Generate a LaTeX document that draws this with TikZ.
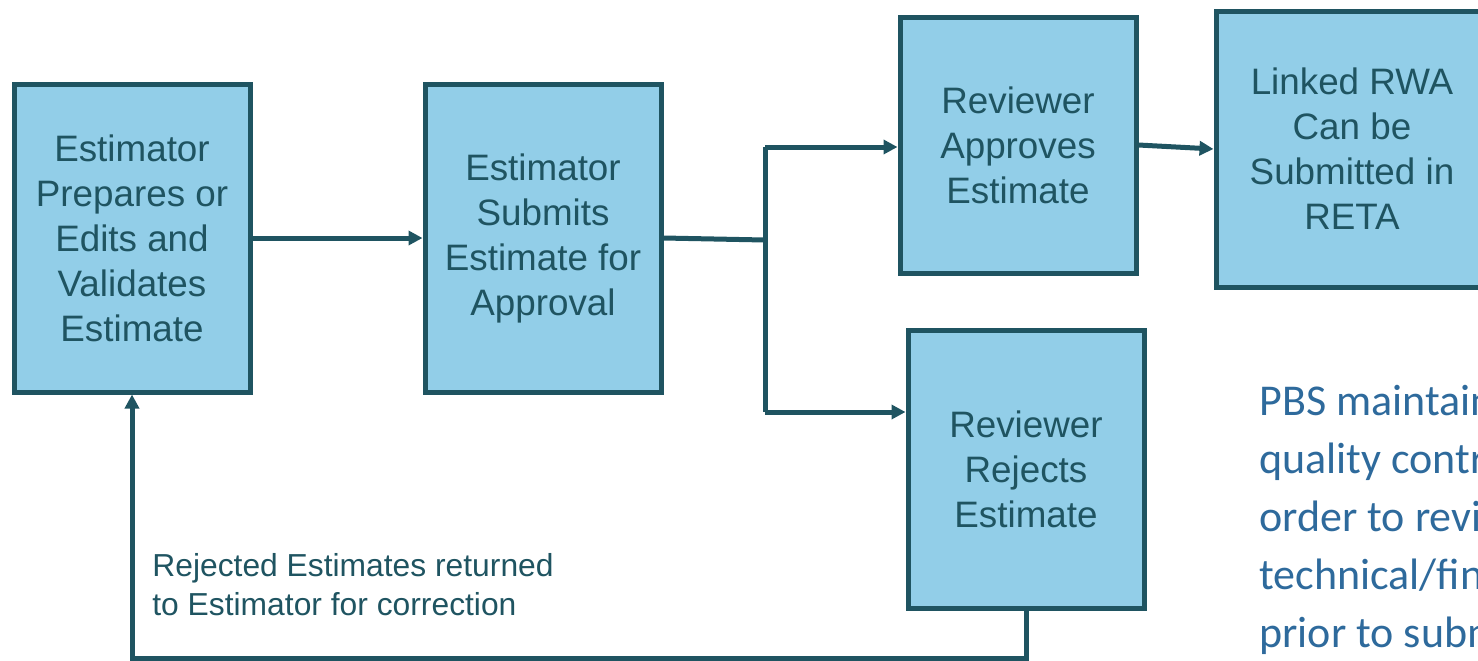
\documentclass[tikz,border=0pt]{standalone}
\usepackage{fontspec}
\setmainfont{Liberation Sans}
\newfontfamily\notefont{Carlito}
\usetikzlibrary{arrows.meta}
\definecolor{boxfill}{HTML}{92CEE8}
\definecolor{edge}{HTML}{1F5461}
\definecolor{notecol}{HTML}{2E6A9C}
\begin{document}
\begin{tikzpicture}[x=0.5pt,y=-0.5pt,
    stepbox/.style={draw=edge,fill=boxfill,line width=2.5pt,inner sep=0pt,align=center,
      text=edge,font=\fontsize{18.4}{22.5}\selectfont},
    link/.style={draw=edge,line width=2.5pt},
    arr/.style={link,-{Triangle[length=7pt,width=7pt]}}]
  \useasboundingbox (0,0) rectangle (1478,660);
  \clip (0,0) rectangle (1478,660);
  \node[stepbox,minimum width=118pt,minimum height=154pt] (prep) at (132,238) {Estimator\\Prepares or\\Edits and\\Validates\\Estimate};
  \node[stepbox,minimum width=118pt,minimum height=154pt] (submit) at (543,238) {Estimator\\Submits\\Estimate for\\Approval};
  \node[stepbox,minimum width=118pt,minimum height=128pt] (approve) at (1018,145) {Reviewer\\Approves\\Estimate};
  \node[stepbox,minimum width=118pt,minimum height=139pt] (reject) at (1026,469) {Reviewer\\Rejects\\Estimate};
  \node[stepbox,minimum width=136pt,minimum height=138pt] (reta) at (1352,149) {Linked RWA\\Can be\\Submitted in\\RETA};
  \coordinate (split) at (765,240);
  \coordinate (splittop) at (765,147);
  \coordinate (splitbot) at (765,412);
  \coordinate (back) at (132,658);
  \draw[arr] (prep.east) -- (submit.east -| submit.west);
  \draw[link] (submit.east) -- (split);
  \draw[link] (splittop) -- (splitbot);
  \draw[arr] (splittop) -- (splittop -| approve.west);
  \draw[arr] (splitbot) -- (splitbot -| reject.west);
  \draw[arr] (approve.east) -- (reta.west);
  \draw[arr] (reject.south) |- (back) -- (prep.south);
  \node[anchor=west,align=left,text=edge,inner sep=0pt,font=\fontsize{15.9}{19.5}\selectfont] (backnote) at (152,585) {Rejected Estimates returned\\to Estimator for correction};
  \node[anchor=west,align=left,text=notecol,inner sep=0pt,font=\notefont\fontsize{22}{29}\selectfont] (qcnote) at (1259,520) {PBS maintains\\quality control in\\order to review\\technical/financial\\prior to submission};
\end{tikzpicture}
\end{document}
